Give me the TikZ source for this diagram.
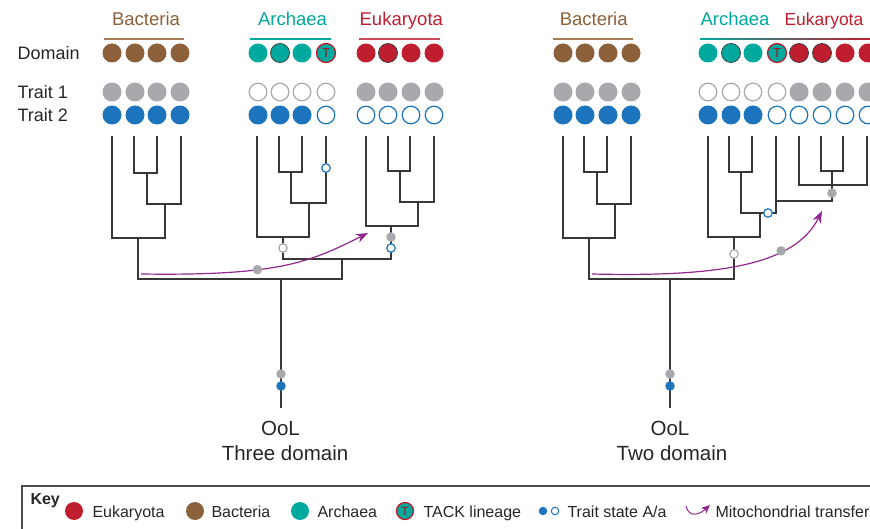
\documentclass[tikz,border=0pt]{standalone}
\usepackage{fontspec}
\setmainfont{Liberation Sans}
\usetikzlibrary{arrows.meta}
\definecolor{bactcol}{RGB}{140,96,58}
\definecolor{bactline}{RGB}{166,124,82}
\definecolor{archcol}{RGB}{0,169,157}
\definecolor{eukcol}{RGB}{190,30,45}
\definecolor{traitgrey}{RGB}{167,169,172}
\definecolor{traitblue}{RGB}{28,117,188}
\definecolor{mitocol}{RGB}{146,39,143}
\definecolor{treecol}{RGB}{55,55,55}
\tikzset{
  dom/.style={circle, minimum size=19pt, inner sep=0pt},
  domrim/.style={dom, draw=black!75, line width=0.8pt},
  tack/.style={dom, fill=archcol, draw=eukcol, line width=1.3pt, text=eukcol!80!black, font=\fontsize{13}{13}\selectfont},
  trfull/.style={circle, minimum size=19pt, inner sep=0pt, fill=#1},
  tropen/.style={circle, minimum size=17.6pt, inner sep=0pt, draw=#1, fill=white, line width=1.2pt},
  tdot/.style={circle, minimum size=9.5pt, inner sep=0pt, fill=#1},
  todot/.style={circle, minimum size=8.5pt, inner sep=0pt, draw=#1, fill=white, line width=1.2pt},
  branch/.style={draw=treecol, line width=1.1pt},
  mito/.style={draw=mitocol, line width=1.2pt, -{Stealth[length=12pt,width=9pt]}},
  toplbl/.style={anchor=base, font=\fontsize{18.5}{20}\selectfont},
  rowlbl/.style={anchor=base west, text=black!85, font=\fontsize{18}{20}\selectfont},
  oollbl/.style={anchor=base, text=black!85, font=\fontsize{20.5}{22}\selectfont},
  keylbl/.style={anchor=base west, text=black!85, font=\fontsize{16}{18}\selectfont},
}
\begin{document}
\begin{tikzpicture}[x=1pt,y=-1pt]
\useasboundingbox (0,0) rectangle (870,529);
\clip (0,0) rectangle (870,529);
\node[rowlbl] (ldomain) at (14,59.3) {Domain};
\node[rowlbl] (ltrait1) at (14,98.3) {Trait 1};
\node[rowlbl] (ltrait2) at (14,121.7) {Trait 2};
\node[toplbl, text=bactcol] (lbact) at (146,26) {Bacteria};
\node[toplbl, text=archcol] (larch) at (292.5,26) {Archaea};
\node[toplbl, text=eukcol] (leuk) at (401.3,26) {Eukaryota};
\node[toplbl, text=bactcol] (rbact) at (593.7,26) {Bacteria};
\node[toplbl, text=archcol] (rarch) at (735,26) {Archaea};
\node[toplbl, text=eukcol, anchor=base west, font=\fontsize{17.5}{20}\selectfont] (reuk) at (781,26) {Eukaryota};
\draw[bactline, line width=1.2pt] (104,39) -- (184,39);
\draw[archcol, line width=1.2pt] (250,39) -- (331,39);
\draw[eukcol!80, line width=1.2pt] (359,39) -- (440,39);
\draw[bactline, line width=1.2pt] (553,39) -- (633,39);
\shade[left color=archcol, right color=eukcol] (700,38.4) rectangle (870,39.8);
% domain row
\foreach \x [count=\i] in {112,135,157,180} \node[dom, fill=bactcol] (ldb\i) at (\x,53) {};
\node[dom, fill=archcol] (lda1) at (258,53) {};
\node[domrim, fill=archcol] (lda2) at (280,53) {};
\node[dom, fill=archcol] (lda3) at (302,53) {};
\node[tack] (lda4) at (326,53) {T};
\node[dom, fill=eukcol] (lde1) at (366,53) {};
\node[domrim, fill=eukcol] (lde2) at (388,53) {};
\node[dom, fill=eukcol] (lde3) at (411,53) {};
\node[dom, fill=eukcol] (lde4) at (434,53) {};
\foreach \x [count=\i] in {563,585,608,631} \node[dom, fill=bactcol] (rdb\i) at (\x,53) {};
\node[dom, fill=archcol] (rda1) at (708,53) {};
\node[domrim, fill=archcol] (rda2) at (731,53) {};
\node[dom, fill=archcol] (rda3) at (753,53) {};
\node[tack] (rda4) at (777,53) {T};
\node[domrim, fill=eukcol] (rde1) at (799,53) {};
\node[domrim, fill=eukcol] (rde2) at (822,53) {};
\node[dom, fill=eukcol] (rde3) at (845,53) {};
\node[dom, fill=eukcol] (rde4) at (868,53) {};
% trait rows
\foreach \x [count=\i] in {112,135,157,180,366,388,411,434,563,585,608,631,799,822,845,868}
  \node[trfull=traitgrey] (tg\i) at (\x,92) {};
\foreach \x [count=\i] in {258,280,302,326,708,731,753,777}
  \node[tropen=traitgrey] (to\i) at (\x,92) {};
\foreach \x [count=\i] in {112,135,157,180,258,280,302,563,585,608,631,708,731,753}
  \node[trfull=traitblue] (bg\i) at (\x,115) {};
\foreach \x [count=\i] in {326,366,388,411,434,777,799,822,845,868}
  \node[tropen=traitblue] (bo\i) at (\x,115) {};
% left tree
\coordinate (lb1) at (112,136); \coordinate (lb2) at (134,136);
\coordinate (lb3) at (157,136); \coordinate (lb4) at (181,136);
\coordinate (la1) at (257,136); \coordinate (la2) at (279,136);
\coordinate (la3) at (302,136); \coordinate (la4) at (326,136);
\coordinate (le1) at (366,136); \coordinate (le2) at (388,136);
\coordinate (le3) at (410,136); \coordinate (le4) at (434,136);
\coordinate (lb23) at (147,173); \coordinate (lb234) at (165,204);
\coordinate (lbB) at (138,238);
\coordinate (la23) at (291,172); \coordinate (la234) at (309,203);
\coordinate (laA) at (283,237);
\coordinate (le23) at (400,171); \coordinate (le234) at (418,202);
\coordinate (leE) at (391,226);
\coordinate (lae) at (342,259);
\coordinate (lroot) at (281,279);
\coordinate (lool) at (281,408);
\draw[branch] (lb2) |- (lb23); \draw[branch] (lb3) |- (lb23);
\draw[branch] (lb23) |- (lb234); \draw[branch] (lb4) |- (lb234);
\draw[branch] (lb1) |- (lbB); \draw[branch] (lb234) |- (lbB);
\draw[branch] (la2) |- (la23); \draw[branch] (la3) |- (la23);
\draw[branch] (la23) |- (la234); \draw[branch] (la4) |- (la234);
\draw[branch] (la1) |- (laA); \draw[branch] (la234) |- (laA);
\draw[branch] (le2) |- (le23); \draw[branch] (le3) |- (le23);
\draw[branch] (le23) |- (le234); \draw[branch] (le4) |- (le234);
\draw[branch] (le1) |- (leE); \draw[branch] (le234) |- (leE);
\draw[branch] (laA) |- (lae); \draw[branch] (leE) |- (lae);
\draw[branch] (lbB) |- (lroot); \draw[branch] (lae) |- (lroot);
\draw[branch] (lroot) -- (lool);
\node[todot=traitblue] (lm1) at (326,168) {};
\node[todot=traitgrey] (lm2) at (283,248) {};
\node[tdot=traitgrey] (lm3) at (391,237) {};
\node[todot=traitblue] (lm4) at (391,248) {};
\node[tdot=traitgrey] (lm5) at (281,374) {};
\node[tdot=traitblue] (lm6) at (281,386) {};
\coordinate (lms) at (141,274);
\coordinate (lme) at (368,233);
\draw[mito] (lms) .. controls (280,276) and (310,262) .. (lme)
  node[pos=0.37, tdot=traitgrey] (lmt) {};
\node[oollbl] (lool1) at (280.5,435) {OoL};
\node[oollbl] (lool2) at (285,460) {Three domain};
% right tree
\coordinate (rb1) at (563,136); \coordinate (rb2) at (584,136);
\coordinate (rb3) at (607,136); \coordinate (rb4) at (631,136);
\coordinate (ra1) at (708,136); \coordinate (ra2) at (729,136);
\coordinate (ra3) at (752,136); \coordinate (ra4) at (776,136);
\coordinate (re1) at (799,136); \coordinate (re2) at (821,136);
\coordinate (re3) at (843,136); \coordinate (re4) at (867,136);
\coordinate (rb23) at (597,172); \coordinate (rb234) at (615,204);
\coordinate (rbB) at (589,238);
\coordinate (ra23) at (741,172);
\coordinate (re23) at (832,171); \coordinate (reE) at (832,185);
\coordinate (rx) at (776,201); \coordinate (ry) at (760,213);
\coordinate (raA) at (734,237);
\coordinate (rroot) at (670,279);
\coordinate (rool) at (670,408);
\draw[branch] (rb2) |- (rb23); \draw[branch] (rb3) |- (rb23);
\draw[branch] (rb23) |- (rb234); \draw[branch] (rb4) |- (rb234);
\draw[branch] (rb1) |- (rbB); \draw[branch] (rb234) |- (rbB);
\draw[branch] (ra2) |- (ra23); \draw[branch] (ra3) |- (ra23);
\draw[branch] (re2) |- (re23); \draw[branch] (re3) |- (re23);
\draw[branch] (re1) |- (reE); \draw[branch] (re4) |- (reE);
\draw[branch] (re23) -- (reE);
\draw[branch] (ra4) |- (rx); \draw[branch] (reE) |- (rx);
\draw[branch] (ra23) |- (ry); \draw[branch] (rx) |- (ry);
\draw[branch] (ra1) |- (raA); \draw[branch] (ry) |- (raA);
\draw[branch] (rbB) |- (rroot); \draw[branch] (raA) |- (rroot);
\draw[branch] (rroot) -- (rool);
\node[todot=traitblue] (rm1) at (768,213) {};
\node[tdot=traitgrey] (rm2) at (832,193) {};
\node[todot=traitgrey] (rm3) at (734,254) {};
\node[tdot=traitgrey] (rm5) at (670,374) {};
\node[tdot=traitblue] (rm6) at (670,386) {};
\coordinate (rms) at (592,274);
\coordinate (rme) at (822,211);
\draw[mito] (rms) .. controls (720,277) and (795,265) .. (rme)
  node[pos=0.68, tdot=traitgrey] (rmt) {};
\node[oollbl] (rool1) at (670,435) {OoL};
\node[oollbl] (rool2) at (672,460) {Two domain};
% key
\draw[black!70, line width=1.4pt] (22,486) rectangle (900,560);
\node[keylbl, font=\fontsize{16}{18}\selectfont\bfseries] (kkey) at (27,504) {Key};
\node[dom, minimum size=18pt, fill=eukcol] (kc1) at (74,511) {};
\node[keylbl] (kt1) at (89,517.5) {Eukaryota};
\node[dom, minimum size=18pt, fill=bactcol] (kc2) at (195,511) {};
\node[keylbl] (kt2) at (208,517.5) {Bacteria};
\node[dom, minimum size=18pt, fill=archcol] (kc3) at (300,511) {};
\node[keylbl] (kt3) at (314,517.5) {Archaea};
\node[tack, minimum size=17pt, font=\fontsize{12}{12}\selectfont] (kc4) at (405,511) {T};
\node[keylbl] (kt4) at (420,517.5) {TACK lineage};
\node[circle, minimum size=8.5pt, inner sep=0pt, fill=traitblue] (kc5) at (543,511) {};
\node[circle, minimum size=7.5pt, inner sep=0pt, draw=traitblue, line width=1pt] (kc6) at (555,511) {};
\node[keylbl] (kt5) at (564,517.5) {Trait state A/a};
\coordinate (kms) at (686,506);
\coordinate (kme) at (710,505);
\draw[mito, line width=1pt, -{Stealth[length=9pt,width=8pt]}] (kms) .. controls (689,518) and (699,515) .. (kme);
\node[keylbl] (kt6) at (712,517.5) {Mitochondrial transfer};
\end{tikzpicture}
\end{document}
